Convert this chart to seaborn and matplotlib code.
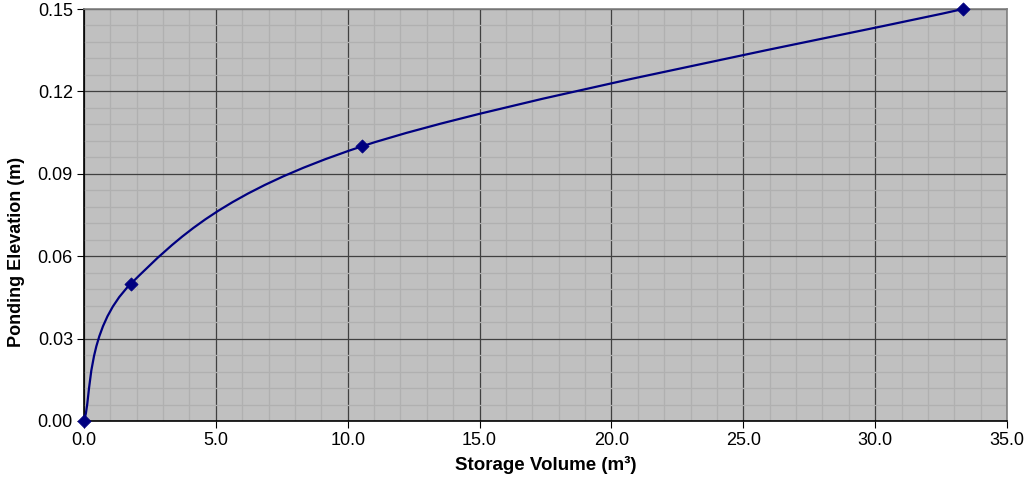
import numpy as np
import pandas as pd
import seaborn as sns
import matplotlib
matplotlib.use('Agg')
import matplotlib.pyplot as plt
from matplotlib.path import Path
from matplotlib.patches import PathPatch
from matplotlib.ticker import MultipleLocator, FormatStrFormatter

# datos
volumen = [0.0, 1.78, 10.54, 33.33]
elevacion = [0.00, 0.05, 0.10, 0.15]

df = pd.DataFrame({'Volumen': volumen, 'Elevacion': elevacion})

sns.set_style('white')
plt.rcParams['font.family'] = ['Liberation Sans', 'DejaVu Sans']
plt.rcParams['text.color'] = 'black'
plt.rcParams['axes.labelcolor'] = 'black'
plt.rcParams['xtick.color'] = 'black'
plt.rcParams['ytick.color'] = 'black'

fig = plt.figure(figsize=(10.32, 4.79), dpi=100)
ax = fig.add_axes([0.0814, 0.1211, 0.8944, 0.8601])
ax.set_facecolor('#c0c0c0')

ax.set_xlim(0, 35)
ax.set_ylim(0, 0.15)
ax.xaxis.set_major_locator(MultipleLocator(5))
ax.xaxis.set_minor_locator(MultipleLocator(1))
ax.yaxis.set_major_locator(MultipleLocator(0.03))
ax.yaxis.set_minor_locator(MultipleLocator(0.006))
ax.xaxis.set_major_formatter(FormatStrFormatter('%.1f'))
ax.yaxis.set_major_formatter(FormatStrFormatter('%.2f'))
ax.grid(which='minor', color='#b0b0b0', linewidth=0.9)
ax.grid(which='major', color='#404040', linewidth=0.9)
ax.set_axisbelow(True)

# linea suavizada estilo Excel (curvas Bezier)
pts = df[['Volumen', 'Elevacion']].to_numpy()
ext = np.vstack([pts[0], pts, pts[-1]])
verts = [tuple(pts[0])]
codes = [Path.MOVETO]
for i in range(len(pts) - 1):
    p0, p1, p2, p3 = ext[i], ext[i + 1], ext[i + 2], ext[i + 3]
    c1 = p1 + (p2 - p0) / 6
    c2 = p2 - (p3 - p1) / 6
    verts += [tuple(c1), tuple(c2), tuple(p2)]
    codes += [Path.CURVE4] * 3
ax.add_patch(PathPatch(Path(verts, codes), facecolor='none',
                       edgecolor='#000080', linewidth=1.6, zorder=3))

sns.scatterplot(data=df, x='Volumen', y='Elevacion', marker='D', s=45,
                color='#000080', edgecolor='#000080', ax=ax, zorder=4,
                clip_on=False)

for s in ['left', 'bottom']:
    ax.spines[s].set_color('black')
    ax.spines[s].set_linewidth(1.2)
for s in ['top', 'right']:
    ax.spines[s].set_color('#808080')
    ax.spines[s].set_linewidth(1.2)

ax.tick_params(axis='both', which='major', direction='out', length=5,
               width=0.8, color='black', labelcolor='black', labelsize=13,
               pad=3, left=True, bottom=True)
ax.tick_params(axis='both', which='minor', length=0)

ax.set_xlabel('Storage Volume (m³)', fontsize=13.5, fontweight='bold', labelpad=5)
ax.set_ylabel('Ponding Elevation (m)', fontsize=13, fontweight='bold', labelpad=8)
ax.yaxis.set_label_coords(-0.064, 0.41)

fig.savefig('out.png', dpi=100)
